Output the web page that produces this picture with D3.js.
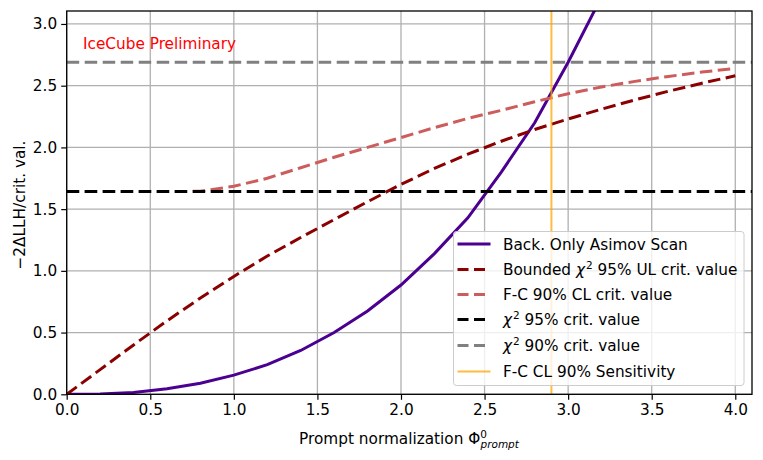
<!DOCTYPE html>
<html><head><meta charset="utf-8">
<script src="https://cdn.jsdelivr.net/npm/d3@7"></script>
<style>
body{margin:0;background:#fff;}
text{font-family:"DejaVu Sans",sans-serif;}
</style></head>
<body><svg id="c" width="763" height="460"></svg>
<script>
// ---- data ----
const xs = [0,0.2,0.4,0.6,0.8,1.0,1.2,1.4,1.6,1.8,2.0,2.2,2.4,2.6,2.8,3.0,3.2,3.4,3.6,3.8,4.0];
const asimovScan = [0,0.003,0.015,0.045,0.09,0.155,0.24,0.355,0.5,0.675,0.885,1.14,1.43,1.8,2.2,2.69,3.22,3.8,4.4,5.0,5.7];
const boundedChi2 = [0,0.20,0.40,0.595,0.78,0.955,1.12,1.27,1.415,1.56,1.70,1.83,1.945,2.05,2.145,2.23,2.31,2.385,2.455,2.52,2.58];
const fcCrit = [1.642,1.642,1.642,1.642,1.645,1.685,1.75,1.835,1.92,2.0,2.08,2.16,2.235,2.30,2.37,2.435,2.49,2.535,2.575,2.61,2.64];
const chi2_95 = 1.642;
const chi2_90 = 2.69;
const fcSensitivity = 2.9;
const xTicks = [0,0.5,1.0,1.5,2.0,2.5,3.0,3.5,4.0];
const yTicks = [0,0.5,1.0,1.5,2.0,2.5,3.0];

// ---- layout ----
const L=66.7, R=752, T=11, B=394.3;
const FS = 15.3;
const x = d3.scaleLinear().domain([0,4.1]).range([L,R]);
const y = d3.scaleLinear().domain([0,3.105]).range([B,T]);
const svg = d3.select("#c");

svg.append("defs").append("clipPath").attr("id","clip")
  .append("rect").attr("x",L).attr("y",T).attr("width",R-L).attr("height",B-T);

// grid
const grid = svg.append("g");
grid.selectAll(".gx").data(xTicks).enter().append("line")
  .attr("x1",d=>x(d)).attr("x2",d=>x(d)).attr("y1",T).attr("y2",B)
  .attr("stroke","#b0b0b0").attr("stroke-width",1.3);
grid.selectAll(".gy").data(yTicks).enter().append("line")
  .attr("y1",d=>y(d)).attr("y2",d=>y(d)).attr("x1",L).attr("x2",R)
  .attr("stroke","#b0b0b0").attr("stroke-width",1.3);

const plot = svg.append("g").attr("clip-path","url(#clip)");
const line = d3.line().x((d,i)=>x(xs[i])).y(d=>y(d));
const dash = "12.5,5.5";

plot.append("path").datum(asimovScan).attr("d",line).attr("fill","none")
  .attr("stroke","#4b0092").attr("stroke-width",3);
plot.append("path").datum(boundedChi2).attr("d",line).attr("fill","none")
  .attr("stroke","#8b0000").attr("stroke-width",3).attr("stroke-dasharray",dash);
plot.append("path").datum(fcCrit).attr("d",line).attr("fill","none")
  .attr("stroke","#cd5c5c").attr("stroke-width",3).attr("stroke-dasharray",dash);
plot.append("line").attr("x1",L).attr("x2",R).attr("y1",y(chi2_95)).attr("y2",y(chi2_95))
  .attr("stroke","#000").attr("stroke-width",3).attr("stroke-dasharray",dash);
plot.append("line").attr("x1",L).attr("x2",R).attr("y1",y(chi2_90)).attr("y2",y(chi2_90))
  .attr("stroke","#808080").attr("stroke-width",3).attr("stroke-dasharray",dash);
plot.append("line").attr("x1",x(fcSensitivity)).attr("x2",x(fcSensitivity)).attr("y1",T).attr("y2",B)
  .attr("stroke","#ffa500").attr("stroke-opacity",0.75).attr("stroke-width",2);

// axes
const xAxis = d3.axisBottom(x).tickValues(xTicks).tickFormat(d3.format(".1f")).tickSize(5.5).tickPadding(4);
const yAxis = d3.axisLeft(y).tickValues(yTicks).tickFormat(d3.format(".1f")).tickSize(5.5).tickPadding(4);
const gx = svg.append("g").attr("transform",`translate(0,${B})`).call(xAxis);
const gy = svg.append("g").attr("transform",`translate(${L},0)`).call(yAxis);
[gx,gy].forEach(g=>{
  g.select(".domain").remove();
  g.selectAll(".tick line").attr("stroke","#000").attr("stroke-width",1.2);
  g.selectAll(".tick text").attr("font-size",FS).attr("fill","#000").attr("font-family","DejaVu Sans");
});
svg.append("rect").attr("x",L).attr("y",T).attr("width",R-L).attr("height",B-T)
  .attr("fill","none").attr("stroke","#000").attr("stroke-width",1.3);

// text
svg.append("text").attr("x",83).attr("y",48.5).attr("font-size",FS).attr("fill","#ff0000").text("IceCube Preliminary");

const xl = svg.append("text").attr("x",409).attr("y",444).attr("text-anchor","middle").attr("font-size",FS);
xl.append("tspan").text("Prompt normalization Φ");
xl.append("tspan").attr("font-size",10.5).attr("dy",-6).text("0");
xl.append("tspan").attr("font-size",10.5).attr("font-style","italic").attr("dx",-6.5).attr("dy",10).text("prompt");

svg.append("text").attr("transform","translate(25,205) rotate(-90)").attr("text-anchor","middle")
  .attr("font-size",FS).text("−2ΔLLH/crit. val.");

// legend
const lg = svg.append("g");
lg.append("rect").attr("x",453.5).attr("y",231.5).attr("width",290.5).attr("height",154)
  .attr("rx",3).attr("fill","#fff").attr("fill-opacity",0.8).attr("stroke","#cccccc").attr("stroke-width",1);
const items = [
  {c:"#4b0092",d:null,o:1,w:3,t:[["Back. Only Asimov Scan"]]},
  {c:"#8b0000",d:dash,o:1,w:3,t:[["Bounded "],["χ","i"],["2","s"],[" 95% UL crit. value"]]},
  {c:"#cd5c5c",d:dash,o:1,w:3,t:[["F-C 90% CL crit. value"]]},
  {c:"#000000",d:dash,o:1,w:3,t:[["χ","i"],["2","s"],[" 95% crit. value"]]},
  {c:"#808080",d:dash,o:1,w:3,t:[["χ","i"],["2","s"],[" 90% crit. value"]]},
  {c:"#ffa500",d:null,o:0.75,w:2,t:[["F-C CL 90% Sensitivity"]]}
];
const rowY = [244,269.5,294.5,319.5,345.5,371.5];
items.forEach((it,i)=>{
  const yy = rowY[i];
  lg.append("line").attr("x1",457.5).attr("x2",490.5).attr("y1",yy).attr("y2",yy)
    .attr("stroke",it.c).attr("stroke-width",it.w).attr("stroke-opacity",it.o)
    .attr("stroke-dasharray",it.d?"11,5.5":null);
  const t = lg.append("text").attr("x",503).attr("y",yy+5.5).attr("font-size",FS);
  it.t.forEach((p,k)=>{
    const s = t.append("tspan").text(p[0]);
    if(p[1]==="i") s.attr("font-style","italic");
    if(p[1]==="s") s.attr("font-size",10.5).attr("dy",-6).attr("dx",1);
    if(p[1]===undefined && k>0 && it.t[k-1][1]==="s") s.attr("dy",6);
  });
});
</script></body></html>
